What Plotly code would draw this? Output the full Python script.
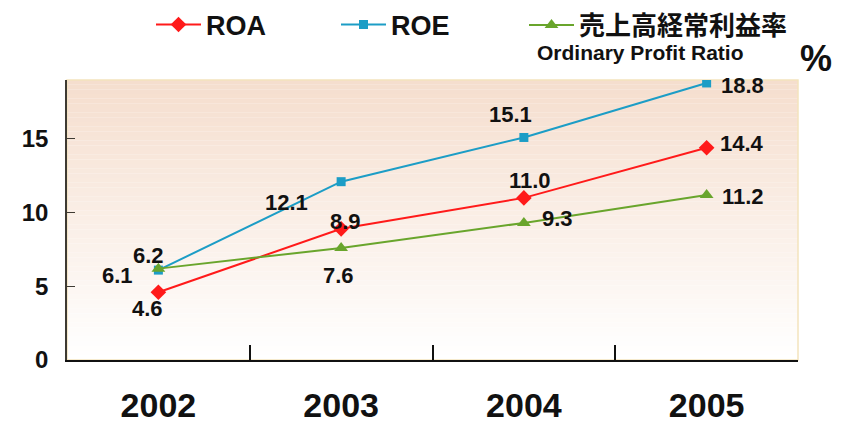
import plotly.graph_objects as go

years = ["2002", "2003", "2004", "2005"]
roa = [4.6, 8.9, 11.0, 14.4]
roe = [6.1, 12.1, 15.1, 18.8]
ratio = [6.2, 7.6, 9.3, 11.2]
y_ticks = [0, 5, 10, 15]

NUMFONT = "Liberation Sans, Arial, sans-serif"

# the page body adds an 8px offset; layout below is expressed in screen pixels
OFF = 8
W, H = 847 - OFF, 427 - OFF
L, T = 67 - OFF, 80 - OFF
R, B = 49, 67
PW, PH = W - L - R, H - T - B


def px_x(sx):
    return (sx - OFF - L) / PW


def px_y(sy):
    return (H - B - (sy - OFF)) / PH


series = [
    dict(name="ROA", vals=roa, color="#ff1a1a", symbol="diamond", size=12, leg=(151, "left"),
         font=dict(family="Liberation Sans, Arial, sans-serif", size=27),
         offs=[(-11, 16), (4, -7), (6, -17), (35, -4)]),
    dict(name="ROE", vals=roe, color="#1c9dc6", symbol="square", size=9, leg=(336, "left"),
         font=dict(family="Liberation Sans, Arial, sans-serif", size=27),
         offs=[(-41, 5), (-55, 21), (-13, -23), (36, 3)]),
    dict(name="売上高経常利益率", vals=ratio, color="#69a52c", symbol="triangle-up", size=12,
         leg=(793, "right"),
         font=dict(family="Noto Sans CJK JP", size=26),
         offs=[(-10, -13), (-3, 27), (34, -4), (36, 2)]),
]

fig = go.Figure()
annotations = []
legends = {}
for k, s in enumerate(series):
    lname = "legend" if k == 0 else f"legend{k + 1}"
    fig.add_trace(go.Scatter(
        x=years, y=s["vals"], mode="lines+markers", name=s["name"],
        line=dict(color=s["color"], width=2),
        marker=dict(symbol=s["symbol"], size=s["size"], color=s["color"]),
        legend=lname,
    ))
    legends[lname] = dict(
        orientation="h", x=px_x(s["leg"][0]), xanchor=s["leg"][1], y=px_y(25), yanchor="middle",
        font=dict(color="#111111", weight="bold", **s["font"]),
        itemwidth=45, bgcolor="rgba(0,0,0,0)",
    )
    for i, (yv, (dx, dy)) in enumerate(zip(s["vals"], s["offs"])):
        annotations.append(dict(
            x=i, y=yv, xref="x", yref="y", text=f"{yv:.1f}", showarrow=False,
            xshift=dx, yshift=-dy,
            font=dict(family=NUMFONT, size=22, color="#111111", weight="bold"),
        ))

annotations.append(dict(
    x=px_x(640), y=px_y(53), xref="paper", yref="paper", text="<b>Ordinary Profit Ratio</b>",
    showarrow=False, xanchor="center", yanchor="middle",
    font=dict(family="Liberation Sans, Arial, sans-serif", size=21, color="#111111"),
))
annotations.append(dict(
    x=px_x(816), y=px_y(58), xref="paper", yref="paper", text="<b>%</b>",
    showarrow=False, xanchor="center", yanchor="middle",
    font=dict(family="Liberation Sans, Arial, sans-serif", size=36, color="#111111"),
))

# background gradient (peach at top to white at bottom)
shapes = []
n = 60
top = (245, 222, 206)
bot = (255, 255, 255)
for i in range(n):
    t = i / (n - 1)
    c = tuple(int(round(top[k] + (bot[k] - top[k]) * t)) for k in range(3))
    y1 = 1 - i / n
    y0 = 1 - (i + 1) / n
    shapes.append(dict(type="rect", xref="x domain", yref="y domain",
                       x0=0, x1=1, y0=y0, y1=y1, layer="below",
                       fillcolor="rgb(%d,%d,%d)" % c, line=dict(width=0)))
shapes.append(dict(type="rect", xref="x domain", yref="y domain", x0=0, x1=1, y0=0, y1=1,
                   layer="below", fillcolor="rgba(0,0,0,0)",
                   line=dict(color="#f4e4bd", width=1.5)))

fig.update_layout(
    width=W, height=H,
    margin=dict(l=L, r=R, t=T, b=B, autoexpand=False),
    paper_bgcolor="white", plot_bgcolor="rgba(0,0,0,0)",
    shapes=shapes, annotations=annotations,
    showlegend=True,
    xaxis=dict(type="category", categoryorder="array", categoryarray=years,
               range=[-0.5, 3.5], showgrid=False, zeroline=False,
               showline=True, linecolor="#111111", linewidth=2,
               ticks="inside", tickson="boundaries", ticklen=15, tickwidth=1.5, tickcolor="#111111",
               tickfont=dict(family=NUMFONT, size=34, color="#111111", weight="bold"),
               ticklabelstandoff=14),
    yaxis=dict(range=[0, 19], tickvals=y_ticks,
               showgrid=False, zeroline=False,
               showline=True, linecolor="#3e3a33", linewidth=1.5,
               ticks="inside", ticklen=8, tickwidth=1.2, tickcolor="#3e3a33",
               tickfont=dict(family=NUMFONT, size=24, color="#111111", weight="bold"),
               ticklabelstandoff=12),
    **legends,
)

fig.write_html("out.html")
